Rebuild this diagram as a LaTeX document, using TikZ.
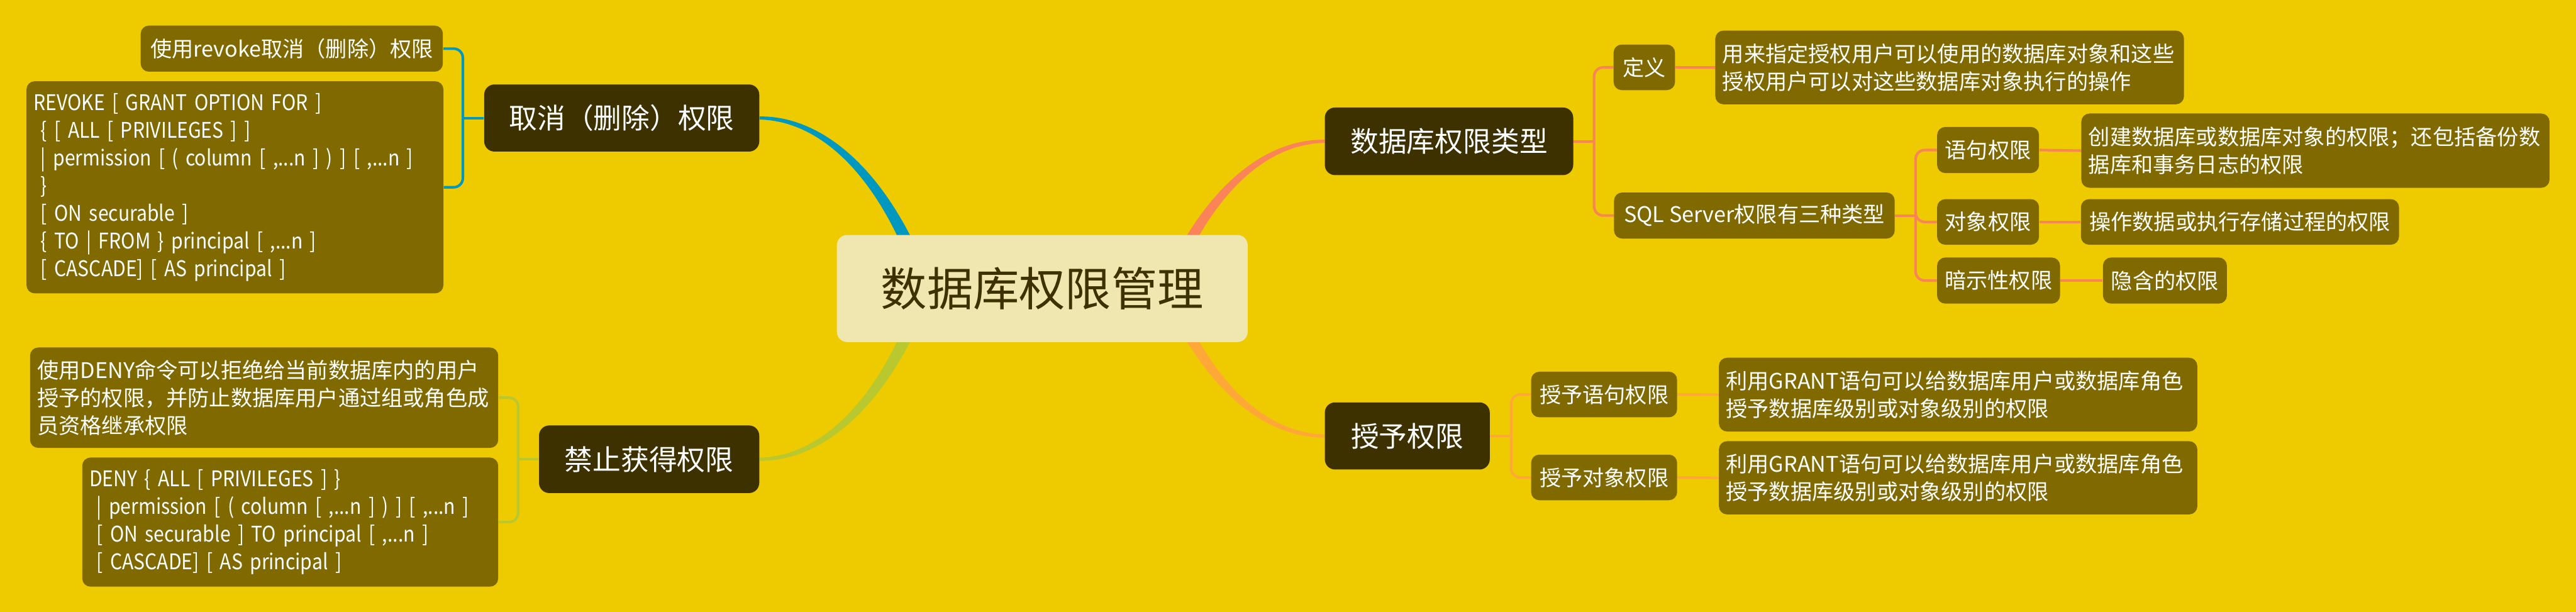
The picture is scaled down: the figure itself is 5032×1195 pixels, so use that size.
\documentclass[tikz,border=0pt]{standalone}
\usepackage{fontspec}
\newfontfamily\cjk{Noto Sans CJK SC}
\newfontfamily\cjknarrow{Noto Sans CJK SC}[FakeStretch=0.88]
\usetikzlibrary{calc}
\pgfdeclarelayer{bglayer}
\pgfsetlayers{bglayer,main}
\definecolor{bgc}{HTML}{EECA00}
\definecolor{leafc}{HTML}{806A00}
\definecolor{mainc}{HTML}{3D3100}
\definecolor{rootc}{HTML}{F0E6B0}
\definecolor{cblue}{HTML}{0098BE}
\definecolor{cgreen}{HTML}{B8C82E}
\definecolor{csalmon}{HTML}{FA8458}
\definecolor{corange}{HTML}{FFA838}
\begin{document}
\begin{tikzpicture}[x=0.01cm,y=-0.01cm,
  rootbox/.style={fill=rootc, text=mainc, rounded corners=0.2cm, font=\cjk\fontsize{0.9cm}{1.1cm}\selectfont, inner sep=0pt},
  mainbox/.style={fill=mainc, text=white, rounded corners=0.2cm, font=\cjk\fontsize{0.55cm}{0.7cm}\selectfont, inner sep=0pt},
  leafbox/.style={fill=leafc, text=white, rounded corners=0.16cm, font=\cjk\fontsize{0.42cm}{0.54cm}\selectfont, inner xsep=0.14cm, inner ysep=0pt},
  lwide/.style={leafbox, anchor=north west, align=left, text width=#1},
  synbox/.style={lwide=#1, font=\cjknarrow\fontsize{0.42cm}{0.54cm}\selectfont},
  subline/.style={line width=0.05cm, rounded corners=0.18cm},
]
\useasboundingbox (0,0) rectangle (5032,1195);

% root
\node[rootbox, minimum width=8.02cm, minimum height=2.09cm] (root) at (2036,563.5) {数据库权限管理};

% main topics
\node[mainbox, minimum width=5.37cm, minimum height=1.31cm] (qx) at (1214.5,230.5) {取消（删除）权限};
\node[mainbox, minimum width=4.30cm, minimum height=1.32cm] (jz) at (1268,897) {禁止获得权限};
\node[mainbox, minimum width=4.85cm, minimum height=1.32cm] (lx) at (2830.5,276) {数据库权限类型};
\node[mainbox, minimum width=3.22cm, minimum height=1.31cm] (sy) at (2749,851.5) {授予权限};

% left leaves
\node[leafbox, minimum width=5.90cm, minimum height=0.90cm] (l1) at (570,95) {使用revoke取消（删除）权限};
\node[synbox=7.86cm, minimum height=4.14cm] (l2) at (51,158) {\mbox{REVOKE [ GRANT OPTION FOR ]}\\\mbox{~\{ [ ALL [ PRIVILEGES ] ]}\\\mbox{~| permission [ ( column [ ,...n ] ) ] [ ,...n ]}\\\mbox{~\}}\\\mbox{~[ ON securable ]}\\\mbox{~\{ TO | FROM \} principal [ ,...n ]}\\\mbox{~[ CASCADE] [ AS principal ]}};
\node[lwide=8.86cm, minimum height=1.96cm] (l3) at (58,678) {使用DENY命令可以拒绝给当前数据库内的用户\\授予的权限，并防止数据库用户通过组或角色成\\员资格继承权限};
\node[synbox=7.84cm, minimum height=2.52cm] (l4) at (160,893) {\mbox{DENY \{ ALL [ PRIVILEGES ] \}}\\\mbox{~| permission [ ( column [ ,...n ] ) ] [ ,...n ]}\\\mbox{~[ ON securable ] TO principal [ ,...n ]}\\\mbox{~[ CASCADE] [ AS principal ]}};

% right leaves
\node[leafbox, minimum width=1.20cm, minimum height=0.89cm] (r1) at (3212,131.5) {定义};
\node[lwide=8.87cm, minimum height=1.44cm] (r2) at (3350,59) {用来指定授权用户可以使用的数据库对象和这些\\授权用户可以对这些数据库对象执行的操作};
\node[leafbox, minimum width=5.48cm, minimum height=0.90cm] (r3) at (3427,421) {SQL Server权限有三种类型};
\node[leafbox, minimum width=1.99cm, minimum height=0.90cm] (r4) at (3883.5,293) {语句权限};
\node[lwide=8.86cm, minimum height=1.45cm] (r5) at (4065,221) {创建数据库或数据库对象的权限；还包括备份数\\据库和事务日志的权限};
\node[leafbox, minimum width=1.99cm, minimum height=0.89cm] (r6) at (3883.5,433.5) {对象权限};
\node[leafbox, minimum width=6.21cm, minimum height=0.89cm] (r7) at (4375.5,433.5) {操作数据或执行存储过程的权限};
\node[leafbox, minimum width=2.40cm, minimum height=0.90cm] (r8) at (3904,548) {暗示性权限};
\node[leafbox, minimum width=2.42cm, minimum height=0.90cm] (r9) at (4229,548) {隐含的权限};
\node[leafbox, minimum width=2.85cm, minimum height=0.89cm] (g1) at (3133.5,770.5) {授予语句权限};
\node[lwide=9.06cm, minimum height=1.44cm] (g2) at (3357,698) {利用GRANT语句可以给数据库用户或数据库角色\\授予数据库级别或对象级别的权限};
\node[leafbox, minimum width=2.85cm, minimum height=0.89cm] (g3) at (3133.5,932.5) {授予对象权限};
\node[lwide=9.06cm, minimum height=1.43cm] (g4) at (3357,861) {利用GRANT语句可以给数据库用户或数据库角色\\授予数据库级别或对象级别的权限};

\begin{pgfonlayer}{bglayer}
\fill[bgc] (0,0) rectangle (5032,1195);
% tapered main branches
\fill[cblue] ($(qx.east)+(0,-3)$) .. controls (1602,226) and (1728,325) .. (1812,535) -- (1788,545) .. controls (1712,335) and (1598,236) .. ($(qx.east)+(0,3)$) -- cycle;
\fill[cgreen] ($(jz.east)+(0,3)$) .. controls (1602,901) and (1728,802) .. (1812,592) -- (1788,582) .. controls (1712,792) and (1598,891) .. ($(jz.east)+(0,-3)$) -- cycle;
\fill[csalmon] ($(lx.west)+(0,-3)$) .. controls (2469,271) and (2343,370) .. (2259,580) -- (2283,590) .. controls (2359,380) and (2473,281) .. ($(lx.west)+(0,3)$) -- cycle;
\fill[corange] ($(sy.west)+(0,3)$) .. controls (2469,856) and (2343,757) .. (2259,547) -- (2283,537) .. controls (2359,747) and (2473,846) .. ($(sy.west)+(0,-3)$) -- cycle;

% sub branches
\coordinate (bq) at ($(qx.west)+(-41,0)$);
\draw[subline, cblue] (qx.west) -- (bq);
\draw[subline, cblue] (bq) |- (l1.east);
\draw[subline, cblue] (bq) |- (l2.east);

\coordinate (bj) at ($(jz.west)+(-40,0)$);
\draw[subline, cgreen] (jz.west) -- (bj);
\draw[subline, cgreen] (bj) |- (l3.east);
\draw[subline, cgreen] (bj) |- (l4.east);

\coordinate (bl) at ($(lx.east)+(40,0)$);
\draw[subline, csalmon] (lx.east) -- (bl);
\draw[subline, csalmon] (bl) |- (r1.west);
\draw[subline, csalmon] (bl) |- (r3.west);
\draw[subline, csalmon] (r1.east) -- (r2.west);

\coordinate (bs) at ($(r3.east)+(40,0)$);
\draw[subline, csalmon] (r3.east) -- (bs);
\draw[subline, csalmon] (bs) |- (r4.west);
\draw[subline, csalmon] (bs) |- (r6.west);
\draw[subline, csalmon] (bs) |- (r8.west);
\draw[subline, csalmon] (r4.east) -- (r5.west);
\draw[subline, csalmon] (r6.east) -- (r7.west);
\draw[subline, csalmon] (r8.east) -- (r9.west);

\coordinate (bsy) at ($(sy.east)+(41,0)$);
\draw[subline, corange] (sy.east) -- (bsy);
\draw[subline, corange] (bsy) |- (g1.west);
\draw[subline, corange] (bsy) |- (g3.west);
\draw[subline, corange] (g1.east) -- (g2.west);
\draw[subline, corange] (g3.east) -- (g4.west);
\end{pgfonlayer}
\end{tikzpicture}
\end{document}
